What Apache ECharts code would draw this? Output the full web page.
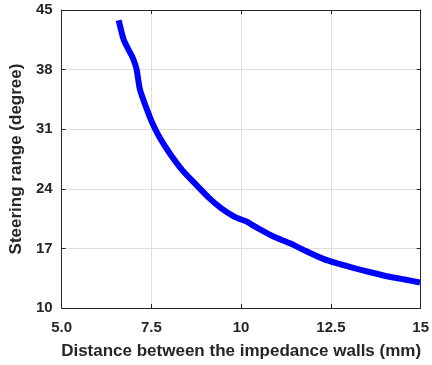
<!DOCTYPE html>
<html>
<head>
<meta charset="utf-8">
<script src="https://cdn.jsdelivr.net/npm/echarts@6/dist/echarts.min.js"></script>
<style>html,body{margin:0;padding:0;background:#fff;}#c{width:432px;height:365px;}</style>
</head>
<body>
<div id="c"></div>
<script>
const distance = [6.59, 6.73, 6.87, 7.0, 7.09, 7.18, 7.36, 7.54, 7.72, 7.99, 8.36, 8.72, 9.09, 9.45, 9.82, 10.0, 10.18, 10.27, 10.54, 10.9, 11.36, 11.8, 12.27, 12.7, 13.18, 13.6, 14.09, 14.55, 14.98];
const steering = [43.8, 41.5, 40.3, 39.2, 38.0, 35.7, 33.5, 31.6, 30.1, 28.3, 26.2, 24.6, 23.0, 21.7, 20.7, 20.4, 20.1, 19.85, 19.2, 18.4, 17.6, 16.7, 15.8, 15.2, 14.66, 14.2, 13.7, 13.35, 13.0];
const xTickLabels = ['5.0', '7.5', '10', '12.5', '15'];
const yTickLabels = ['10', '17', '24', '31', '38', '45'];

const chart = echarts.init(document.getElementById('c'), null, {renderer: 'canvas'});
const font = 'Liberation Sans, Arial, sans-serif';
const axisColor = '#262626';
const xLab = v => { const i = Math.round((v - 5) / 2.5); return xTickLabels[i] ?? ''; };
const yLab = v => { const i = Math.round((v - 10) / 7); return yTickLabels[i] ?? ''; };
chart.setOption({
  animation: false,
  backgroundColor: '#ffffff',
  grid: {left: 57, right: 9, top: 10, bottom: 55, containLabel: false},
  xAxis: [{
    type: 'value', min: 5, max: 15, interval: 2.5, position: 'bottom',
    name: 'Distance between the impedance walls (mm)', nameLocation: 'middle', nameGap: 35,
    nameTextStyle: {fontFamily: font, fontSize: 17, fontWeight: 'bold', color: '#262626'},
    axisLine: {show: true, lineStyle: {color: axisColor, width: 1}},
    axisTick: {show: true, inside: true, length: 4, lineStyle: {color: axisColor}},
    axisLabel: {formatter: xLab, fontFamily: font, fontSize: 15, fontWeight: 'bold', color: '#262626', margin: 12},
    splitLine: {show: true, lineStyle: {color: '#dedede', width: 1}}
  }, {
    type: 'value', min: 5, max: 15, interval: 2.5, position: 'top',
    axisLine: {show: true, lineStyle: {color: axisColor, width: 1}},
    axisTick: {show: true, inside: true, length: 4, lineStyle: {color: axisColor}},
    axisLabel: {show: false}, splitLine: {show: false}
  }],
  yAxis: [{
    type: 'value', min: 10, max: 45, interval: 7, position: 'left',
    name: 'Steering range (degree)', nameLocation: 'middle', nameGap: 36,
    nameTextStyle: {fontFamily: font, fontSize: 17, fontWeight: 'bold', color: '#262626'},
    axisLine: {show: true, lineStyle: {color: axisColor, width: 1}},
    axisTick: {show: true, inside: true, length: 4, lineStyle: {color: axisColor}},
    axisLabel: {formatter: yLab, fontFamily: font, fontSize: 15, fontWeight: 'bold', color: '#262626', margin: 9},
    splitLine: {show: true, lineStyle: {color: '#dedede', width: 1}}
  }, {
    type: 'value', min: 10, max: 45, interval: 7, position: 'right',
    axisLine: {show: true, lineStyle: {color: axisColor, width: 1}},
    axisTick: {show: true, inside: true, length: 4, lineStyle: {color: axisColor}},
    axisLabel: {show: false}, splitLine: {show: false}
  }],
  series: [{
    type: 'line',
    data: distance.map((d, i) => [d, steering[i]]),
    smooth: 0.2,
    showSymbol: false,
    lineStyle: {color: '#0000ff', width: 6, cap: 'butt'},
    clip: true
  }]
});
</script>
</body>
</html>
